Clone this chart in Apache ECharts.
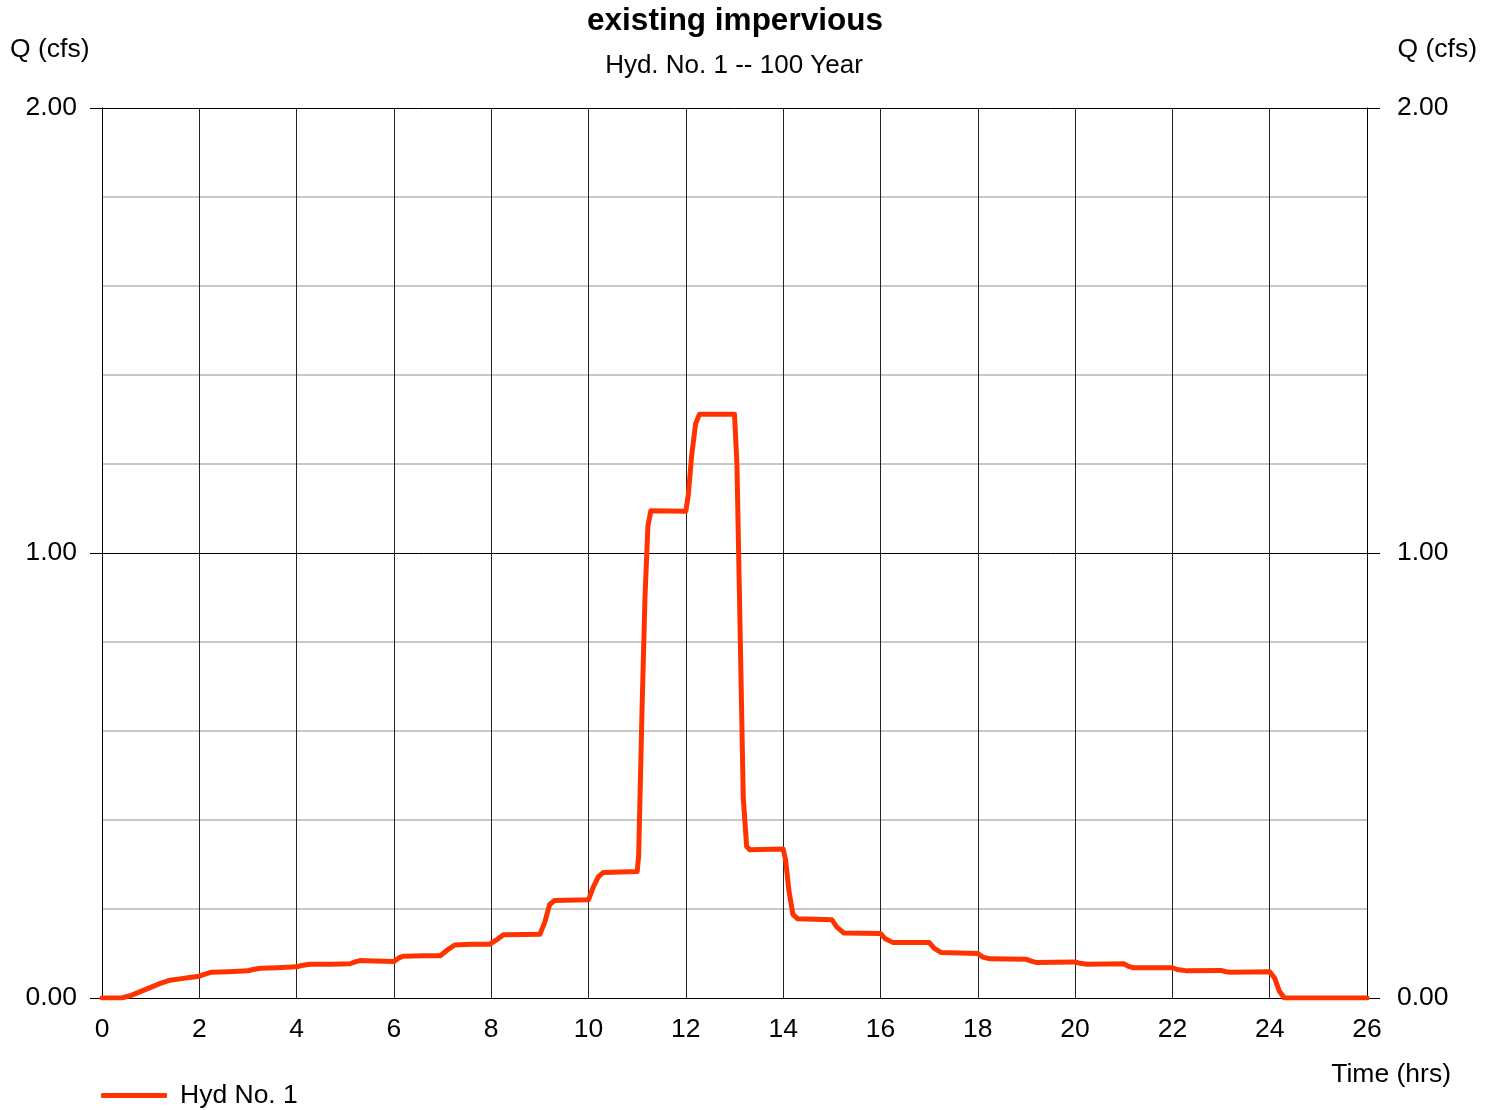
<!DOCTYPE html>
<html>
<head>
<meta charset="utf-8">
<script src="https://cdn.jsdelivr.net/npm/echarts@6/dist/echarts.min.js"></script>
<style>
html,body{margin:0;padding:0;background:#fff;}
#chart{width:1497px;height:1110px;}
</style>
</head>
<body>
<div id="chart"></div>
<script>
// Hydrograph data
var timeHrs = [0, 0.4, 0.6, 0.8, 1.0, 1.2, 1.4, 1.6, 1.8, 2.0, 2.1, 2.25, 2.6, 3.0, 3.1, 3.25, 3.6, 4.0, 4.1, 4.27, 4.7, 5.1, 5.2, 5.3, 5.6, 6.0, 6.1, 6.2, 6.6, 6.95, 7.1, 7.25, 7.6, 7.97, 8.1, 8.25, 9.0, 9.1, 9.2, 9.3, 10.0, 10.1, 10.2, 10.3, 11.0, 11.03, 11.1, 11.16, 11.22, 11.28, 12.0, 12.05, 12.12, 12.2, 12.28, 13.0, 13.05, 13.12, 13.18, 13.25, 13.32, 14.0, 14.05, 14.12, 14.2, 14.3, 15.0, 15.1, 15.25, 16.0, 16.1, 16.25, 17.0, 17.1, 17.25, 18.0, 18.1, 18.25, 19.0, 19.1, 19.2, 20.0, 20.1, 20.25, 21.0, 21.1, 21.2, 22.0, 22.1, 22.3, 23.0, 23.1, 23.2, 24.0, 24.1, 24.2, 24.3, 26.0];
var flowCfs = [0, 0, 0.006, 0.015, 0.024, 0.033, 0.040, 0.043, 0.046, 0.049, 0.053, 0.058, 0.059, 0.061, 0.064, 0.067, 0.068, 0.070, 0.073, 0.076, 0.076, 0.077, 0.081, 0.084, 0.083, 0.082, 0.090, 0.094, 0.095, 0.095, 0.108, 0.119, 0.121, 0.121, 0.130, 0.142, 0.143, 0.170, 0.210, 0.219, 0.221, 0.250, 0.272, 0.282, 0.284, 0.32, 0.65, 0.90, 1.06, 1.095, 1.094, 1.13, 1.22, 1.29, 1.312, 1.312, 1.20, 0.80, 0.45, 0.34, 0.333, 0.335, 0.31, 0.24, 0.188, 0.178, 0.176, 0.160, 0.146, 0.145, 0.133, 0.125, 0.125, 0.112, 0.102, 0.100, 0.092, 0.088, 0.087, 0.083, 0.080, 0.081, 0.078, 0.076, 0.077, 0.071, 0.068, 0.068, 0.064, 0.061, 0.062, 0.059, 0.058, 0.059, 0.045, 0.015, 0, 0];
var seriesName = 'Hyd No. 1';
var chartTitle = 'existing impervious';
var chartSubtitle = 'Hyd. No. 1 -- 100 Year';
var yAxisName = 'Q (cfs)';
var xAxisName = 'Time (hrs)';

var FONT = '"Liberation Sans", Arial, sans-serif';
var FS = 26.5;
var seriesData = timeHrs.map(function (t, i) { return [t, flowCfs[i]]; });

var chart = echarts.init(document.getElementById('chart'));
var labelFmt = function (v) { return v.toFixed(2); };
var GRAY = '#c8c8c8';
chart.setOption({
  animation: false,
  backgroundColor: '#fff',
  grid: { left: 102, right: 130, top: 108, bottom: 112, containLabel: false },
  graphic: [
    { type: 'text', x: 735, y: 21, style: { text: chartTitle, font: 'bold 31.5px ' + FONT, fill: '#000', textAlign: 'center', textVerticalAlign: 'middle' } },
    { type: 'text', x: 734, y: 66, style: { text: chartSubtitle, font: '26px ' + FONT, fill: '#000', textAlign: 'center', textVerticalAlign: 'middle' } },
    { type: 'text', x: 10, y: 50, style: { text: yAxisName, font: FS + 'px ' + FONT, fill: '#000', textAlign: 'left', textVerticalAlign: 'middle' } },
    { type: 'text', x: 1477, y: 50, style: { text: yAxisName, font: FS + 'px ' + FONT, fill: '#000', textAlign: 'right', textVerticalAlign: 'middle' } },
    { type: 'text', x: 1451, y: 1075, style: { text: xAxisName, font: FS + 'px ' + FONT, fill: '#000', textAlign: 'right', textVerticalAlign: 'middle' } }
  ],
  legend: {
    left: 96, top: 1077,
    itemWidth: 66, itemHeight: 5,
    icon: 'roundRect',
    textStyle: { fontFamily: FONT, fontSize: FS, color: '#000', padding: [0, 0, 0, 8] },
    data: [seriesName]
  },
  xAxis: {
    type: 'value', min: 0, max: 26, interval: 2,
    axisLine: { show: true, lineStyle: { color: '#000', width: 1 } },
    axisTick: { show: false },
    axisLabel: { fontFamily: FONT, fontSize: FS, color: '#000', margin: 18 },
    splitLine: { show: true, lineStyle: { color: '#222', width: 1 } }
  },
  yAxis: [
    {
      type: 'value', position: 'left', min: 0, max: 2, interval: 0.2,
      axisLine: { show: false }, axisTick: { show: false }, axisLabel: { show: false },
      splitLine: { show: true, lineStyle: { color: ['rgba(0,0,0,0)', GRAY, GRAY, GRAY, GRAY], width: 2 } }
    },
    {
      type: 'value', position: 'left', min: 0, max: 2, interval: 1,
      axisLine: { show: true, lineStyle: { color: '#000', width: 1 } },
      axisTick: { show: true, inside: false, length: 12, lineStyle: { color: '#000' } },
      axisLabel: { fontFamily: FONT, fontSize: FS, color: '#000', margin: 25, padding: [4, 0, 0, 0], formatter: labelFmt },
      splitLine: { show: true, lineStyle: { color: '#000', width: 1 } }
    },
    {
      type: 'value', position: 'right', min: 0, max: 2, interval: 1,
      axisLine: { show: true, lineStyle: { color: '#000', width: 1 } },
      axisTick: { show: true, inside: false, length: 13, lineStyle: { color: '#000' } },
      axisLabel: { fontFamily: FONT, fontSize: FS, color: '#000', margin: 30, padding: [4, 0, 0, 0], formatter: labelFmt },
      splitLine: { show: false }
    }
  ],
  series: [{
    name: seriesName,
    type: 'line',
    yAxisIndex: 1,
    data: seriesData,
    showSymbol: false,
    symbol: 'none',
    lineStyle: { color: '#ff3300', width: 5, cap: 'round', join: 'round' },
    itemStyle: { color: '#ff3300' },
    z: 5
  }]
});
</script>
</body>
</html>
